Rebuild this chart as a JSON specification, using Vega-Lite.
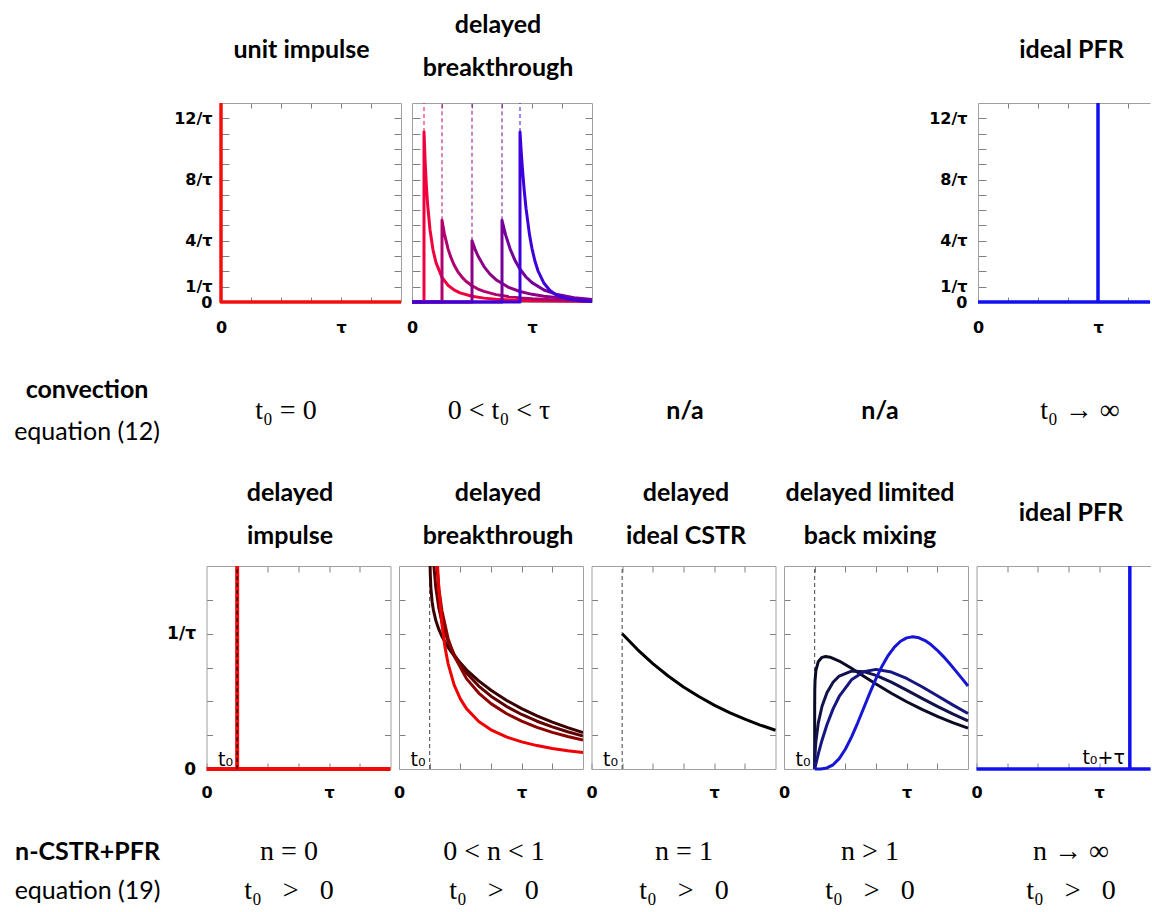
{
"$schema": "https://vega.github.io/schema/vega-lite/v6.json",
"padding": 0,
"spacing": 0,
"resolve": {"scale": {"color": "independent"}},
"config": {
  "view": {"stroke": null},
  "line": {"strokeJoin": "round"},
  "axis": {"grid": false, "labelFont": "DejaVu Sans", "labelFontWeight": "bold", "labelFontSize": 16, "labelColor": "#000000", "domainColor": "#a0a0a0", "domainWidth": 1, "tickColor": "#808080", "tickWidth": 1, "labelOverlap": false, "labelFlush": false},
  "text": {"font": "Lato", "fontSize": 25, "baseline": "middle", "align": "center", "color": "#000000"}
},
"vconcat": [
  {"hconcat": [
    {"width": 203, "height": 100.25, "data": {"values": []}, "mark": "text"},
    {"width": 197, "height": 100.25, "data": {"values": [{"txt": "unit impulse", "line": 1.58}]}, "mark": {"type": "text", "fontWeight": "bold"}, "encoding": {"y": {"field": "line", "type": "quantitative", "scale": {"domain": [0.4186, 2.75], "reverse": true, "nice": false, "zero": false}, "axis": null}, "text": {"field": "txt"}}},
    {"width": 196, "height": 100.25, "data": {"values": [{"txt": "delayed", "line": 1}, {"txt": "breakthrough", "line": 2}]}, "mark": {"type": "text", "fontWeight": "bold"}, "encoding": {"y": {"field": "line", "type": "quantitative", "scale": {"domain": [0.4186, 2.75], "reverse": true, "nice": false, "zero": false}, "axis": null}, "text": {"field": "txt"}}},
    {"width": 397, "height": 100.25, "data": {"values": []}, "mark": "text"},
    {"width": 157, "height": 100.25, "data": {"values": [{"txt": "ideal PFR", "line": 1.58}]}, "mark": {"type": "text", "fontWeight": "bold"}, "encoding": {"y": {"field": "line", "type": "quantitative", "scale": {"domain": [0.4186, 2.75], "reverse": true, "nice": false, "zero": false}, "axis": null}, "text": {"field": "txt"}}}
  ], "spacing": 0, "bounds": "flush"},

  {"hconcat": [
    {"width": 210, "height": 199, "data": {"values": []}, "mark": "text"},
    {"width": 180, "height": 199, "resolve": {"axis": {"x": "independent", "y": "independent"}}, "layer": [
      {"data": {"values": [{"i": 0, "t": 0, "e": 13}, {"i": 1, "t": 0, "e": 0}, {"i": 2, "t": 1.5, "e": 0}]},
       "mark": {"type": "line", "color": "#f2100f", "strokeWidth": 3.5},
       "encoding": {
         "x": {"field": "t", "type": "quantitative", "scale": {"domain": [0, 1.5], "nice": false, "zero": false}, "axis": {"orient": "bottom", "values": [0, 0.25, 0.5, 0.75, 1, 1.25], "labelExpr": "datum.value==0?'0':(datum.value==1?'τ':'')", "tickSize": -5, "labelPadding": 22, "title": null}},
         "y": {"field": "e", "type": "quantitative", "scale": {"domain": [0, 13], "nice": false, "zero": false}, "axis": {"orient": "left", "values": [0,1,2,3,4,5,6,7,8,9,10,11,12], "labelExpr": "datum.value==0?'0':datum.value==1?'1/τ':datum.value==4?'4/τ':datum.value==8?'8/τ':datum.value==12?'12/τ':''", "tickSize": -8, "labelPadding": 17, "labelFontSize": 16, "title": null}},
         "order": {"field": "i", "type": "quantitative"}}},
      {"data": {"values": []}, "mark": {"type": "line"},
       "encoding": {
         "x": {"field": "t", "type": "quantitative", "scale": {"domain": [0, 1.5], "nice": false, "zero": false}, "axis": {"orient": "top", "values": [0.25, 0.5, 0.75, 1, 1.25], "labels": false, "tickSize": -5, "title": null}},
         "y": {"field": "e", "type": "quantitative", "scale": {"domain": [0, 13], "nice": false, "zero": false}, "axis": {"orient": "right", "values": [1,2,3,4,5,6,7,8,9,10,11,12], "labels": false, "tickSize": -7, "title": null}}}}
    ]},
    {"width": 180, "height": 199, "resolve": {"axis": {"x": "independent", "y": "independent"}}, "layer": [
      {"data": {"values": [
        {"k":"a1","i":0,"t":0,"e":0},{"k":"a1","i":1,"t":0.1,"e":0},{"k":"a1","i":2,"t":0.1,"e":11.11},{"k":"a1","i":3,"t":0.11,"e":9.085},{"k":"a1","i":4,"t":0.12,"e":7.56},{"k":"a1","i":5,"t":0.13,"e":6.385},{"k":"a1","i":6,"t":0.15,"e":4.72},{"k":"a1","i":7,"t":0.175,"e":3.41},{"k":"a1","i":8,"t":0.2,"e":2.572},{"k":"a1","i":9,"t":0.25,"e":1.606},{"k":"a1","i":10,"t":0.3,"e":1.093},{"k":"a1","i":11,"t":0.35,"e":0.789},{"k":"a1","i":12,"t":0.4,"e":0.595},{"k":"a1","i":13,"t":0.5,"e":0.372},{"k":"a1","i":14,"t":0.6,"e":0.253},{"k":"a1","i":15,"t":0.7,"e":0.183},{"k":"a1","i":16,"t":0.85,"e":0.121},{"k":"a1","i":17,"t":1.0,"e":0.086},{"k":"a1","i":18,"t":1.2,"e":0.059},{"k":"a1","i":19,"t":1.5,"e":0.037},
        {"k":"a2","i":0,"t":0,"e":0},{"k":"a2","i":1,"t":0.25,"e":0},{"k":"a2","i":2,"t":0.25,"e":5.333},{"k":"a2","i":3,"t":0.27,"e":4.456},{"k":"a2","i":4,"t":0.3,"e":3.485},{"k":"a2","i":5,"t":0.32,"e":2.998},{"k":"a2","i":6,"t":0.35,"e":2.432},{"k":"a2","i":7,"t":0.38,"e":2.007},{"k":"a2","i":8,"t":0.42,"e":1.59},{"k":"a2","i":9,"t":0.45,"e":1.353},{"k":"a2","i":10,"t":0.5,"e":1.058},{"k":"a2","i":11,"t":0.55,"e":0.847},{"k":"a2","i":12,"t":0.6,"e":0.692},{"k":"a2","i":13,"t":0.7,"e":0.483},{"k":"a2","i":14,"t":0.8,"e":0.353},{"k":"a2","i":15,"t":0.9,"e":0.269},{"k":"a2","i":16,"t":1.0,"e":0.21},{"k":"a2","i":17,"t":1.2,"e":0.137},{"k":"a2","i":18,"t":1.5,"e":0.082},
        {"k":"a3","i":0,"t":0,"e":0},{"k":"a3","i":1,"t":0.5,"e":0},{"k":"a3","i":2,"t":0.5,"e":4},{"k":"a3","i":3,"t":0.525,"e":3.455},{"k":"a3","i":4,"t":0.55,"e":3.005},{"k":"a3","i":5,"t":0.6,"e":2.315},{"k":"a3","i":6,"t":0.65,"e":1.821},{"k":"a3","i":7,"t":0.7,"e":1.458},{"k":"a3","i":8,"t":0.8,"e":0.977},{"k":"a3","i":9,"t":0.9,"e":0.686},{"k":"a3","i":10,"t":1.0,"e":0.5},{"k":"a3","i":11,"t":1.1,"e":0.376},{"k":"a3","i":12,"t":1.2,"e":0.289},{"k":"a3","i":13,"t":1.35,"e":0.203},{"k":"a3","i":14,"t":1.5,"e":0.148},
        {"k":"a4","i":0,"t":0,"e":0},{"k":"a4","i":1,"t":0.75,"e":0},{"k":"a4","i":2,"t":0.75,"e":5.333},{"k":"a4","i":3,"t":0.78,"e":4.383},{"k":"a4","i":4,"t":0.82,"e":3.416},{"k":"a4","i":5,"t":0.86,"e":2.69},{"k":"a4","i":6,"t":0.9,"e":2.143},{"k":"a4","i":7,"t":0.95,"e":1.635},{"k":"a4","i":8,"t":1.0,"e":1.266},{"k":"a4","i":9,"t":1.1,"e":0.786},{"k":"a4","i":10,"t":1.2,"e":0.509},{"k":"a4","i":11,"t":1.35,"e":0.282},{"k":"a4","i":12,"t":1.5,"e":0.167},
        {"k":"a5","i":0,"t":0,"e":0},{"k":"a5","i":1,"t":0.9,"e":0},{"k":"a5","i":2,"t":0.9,"e":11.11},{"k":"a5","i":3,"t":0.91,"e":9.839},{"k":"a5","i":4,"t":0.92,"e":8.724},{"k":"a5","i":5,"t":0.935,"e":7.303},{"k":"a5","i":6,"t":0.95,"e":6.13},{"k":"a5","i":7,"t":0.98,"e":4.354},{"k":"a5","i":8,"t":1.0,"e":3.487},{"k":"a5","i":9,"t":1.025,"e":2.658},{"k":"a5","i":10,"t":1.05,"e":2.039},{"k":"a5","i":11,"t":1.1,"e":1.222},{"k":"a5","i":12,"t":1.15,"e":0.749},{"k":"a5","i":13,"t":1.2,"e":0.469},{"k":"a5","i":14,"t":1.3,"e":0.195},{"k":"a5","i":15,"t":1.4,"e":0.086},{"k":"a5","i":16,"t":1.5,"e":0.04}
       ]},
       "mark": {"type": "line", "strokeWidth": 3},
       "encoding": {
         "x": {"field": "t", "type": "quantitative", "scale": {"domain": [0, 1.5], "nice": false, "zero": false}, "axis": {"orient": "bottom", "values": [0, 0.25, 0.5, 0.75, 1, 1.25], "labelExpr": "datum.value==0?'0':(datum.value==1?'τ':'')", "tickSize": -5, "labelPadding": 22, "title": null}},
         "y": {"field": "e", "type": "quantitative", "scale": {"domain": [0, 13], "nice": false, "zero": false}, "axis": {"orient": "left", "values": [1,2,3,4,5,6,7,8,9,10,11,12], "labels": false, "tickSize": -8, "title": null}},
         "color": {"field": "k", "type": "nominal", "scale": {"domain": ["a1","a2","a3","a4","a5"], "range": ["#f0003c","#b0006e","#8c0086","#74009c","#3c00dc"]}, "legend": null},
         "order": {"field": "i", "type": "quantitative"}}},
      {"data": {"values": [
        {"k":"a1","t":0.1,"e":11.11},{"k":"a1","t":0.1,"e":13},
        {"k":"a2","t":0.25,"e":5.333},{"k":"a2","t":0.25,"e":13},
        {"k":"a3","t":0.5,"e":4},{"k":"a3","t":0.5,"e":13},
        {"k":"a4","t":0.75,"e":5.333},{"k":"a4","t":0.75,"e":13},
        {"k":"a5","t":0.9,"e":11.11},{"k":"a5","t":0.9,"e":13}
       ]},
       "mark": {"type": "line", "strokeWidth": 1.2, "strokeDash": [4, 3], "opacity": 0.8},
       "encoding": {
         "x": {"field": "t", "type": "quantitative", "scale": {"domain": [0, 1.5], "nice": false, "zero": false}, "axis": {"orient": "top", "values": [0.25, 0.5, 0.75, 1, 1.25], "labels": false, "tickSize": -5, "title": null}},
         "y": {"field": "e", "type": "quantitative", "scale": {"domain": [0, 13], "nice": false, "zero": false}, "axis": {"orient": "right", "values": [1,2,3,4,5,6,7,8,9,10,11,12], "labels": false, "tickSize": -7, "title": null}},
         "color": {"field": "k", "type": "nominal", "scale": {"domain": ["a1","a2","a3","a4","a5"], "range": ["#f0003c","#b0006e","#8c0086","#74009c","#3c00dc"]}, "legend": null}}}
    ]},
    {"width": 364, "height": 199, "data": {"values": []}, "mark": "text"},
    {"width": 172, "height": 199, "resolve": {"axis": {"x": "independent", "y": "independent"}}, "layer": [
      {"data": {"values": [{"k":"b","i":0,"t":0,"e":0},{"k":"b","i":1,"t":1.4333,"e":0},{"k":"v","i":2,"t":1,"e":0},{"k":"v","i":3,"t":1,"e":13}]},
       "mark": {"type": "line", "color": "#1010f0", "strokeWidth": 3.5},
       "encoding": {
         "x": {"field": "t", "type": "quantitative", "scale": {"domain": [0, 1.4333], "nice": false, "zero": false}, "axis": {"orient": "bottom", "values": [0, 0.25, 0.5, 0.75, 1, 1.25], "labelExpr": "datum.value==0?'0':(datum.value==1?'τ':'')", "tickSize": -5, "labelPadding": 22, "title": null}},
         "y": {"field": "e", "type": "quantitative", "scale": {"domain": [0, 13], "nice": false, "zero": false}, "axis": {"orient": "left", "values": [0,1,2,3,4,5,6,7,8,9,10,11,12], "labelExpr": "datum.value==0?'0':datum.value==1?'1/τ':datum.value==4?'4/τ':datum.value==8?'8/τ':datum.value==12?'12/τ':''", "tickSize": -8, "labelPadding": 19, "labelFontSize": 16, "title": null}},
         "detail": {"field": "k"},
         "order": {"field": "i", "type": "quantitative"}}},
      {"data": {"values": []}, "mark": {"type": "line"},
       "encoding": {
         "x": {"field": "t", "type": "quantitative", "scale": {"domain": [0, 1.4333], "nice": false, "zero": false}, "axis": {"orient": "top", "values": [0.25, 0.5, 0.75, 1, 1.25], "labels": false, "tickSize": -5, "title": null}},
         "y": {"field": "e", "type": "quantitative", "scale": {"domain": [0, 13], "nice": false, "zero": false}, "axis": null}}}
    ]}
  ], "spacing": 11, "bounds": "flush", "resolve": {"scale": {"color": "independent"}}},

  {"width": 1, "height": 33.25, "data": {"values": []}, "mark": "text"},

  {"hconcat": [
    {"width": 174, "height": 84, "layer": [
      {"data": {"values": [{"txt": "convection", "line": 1}]}, "mark": {"type": "text", "fontWeight": "bold"}, "encoding": {"y": {"field": "line", "type": "quantitative", "scale": {"domain": [0.5, 2.5], "reverse": true, "nice": false, "zero": false}, "axis": null}, "text": {"field": "txt"}}},
      {"data": {"values": [{"txt": "equation (12)", "line": 2}]}, "mark": {"type": "text"}, "encoding": {"y": {"field": "line", "type": "quantitative", "scale": {"domain": [0.5, 2.5], "reverse": true, "nice": false, "zero": false}, "axis": null}, "text": {"field": "txt"}}}
    ]},
    {"width": 20, "height": 84, "data": {"values": []}, "mark": "text"},
    {"width": 184, "height": 84, "data": {"values": [{"txt": "t₀ = 0", "line": 1.5}]}, "mark": {"type": "text", "font": "Liberation Serif", "fontSize": 28}, "encoding": {"y": {"field": "line", "type": "quantitative", "scale": {"domain": [0.5, 2.5], "reverse": true, "nice": false, "zero": false}, "axis": null}, "text": {"field": "txt"}}},
    {"width": 242, "height": 84, "data": {"values": [{"txt": "0 < t₀ < τ", "line": 1.5}]}, "mark": {"type": "text", "font": "Liberation Serif", "fontSize": 28}, "encoding": {"y": {"field": "line", "type": "quantitative", "scale": {"domain": [0.5, 2.5], "reverse": true, "nice": false, "zero": false}, "axis": null}, "text": {"field": "txt"}}},
    {"width": 130, "height": 84, "data": {"values": [{"txt": "n/a", "line": 1.5}]}, "mark": {"type": "text", "fontWeight": "bold"}, "encoding": {"y": {"field": "line", "type": "quantitative", "scale": {"domain": [0.5, 2.5], "reverse": true, "nice": false, "zero": false}, "axis": null}, "text": {"field": "txt"}}},
    {"width": 260, "height": 84, "data": {"values": [{"txt": "n/a", "line": 1.5}]}, "mark": {"type": "text", "fontWeight": "bold"}, "encoding": {"y": {"field": "line", "type": "quantitative", "scale": {"domain": [0.5, 2.5], "reverse": true, "nice": false, "zero": false}, "axis": null}, "text": {"field": "txt"}}},
    {"width": 140, "height": 84, "data": {"values": [{"txt": "t₀ → ∞", "line": 1.5}]}, "mark": {"type": "text", "font": "Liberation Serif", "fontSize": 28}, "encoding": {"y": {"field": "line", "type": "quantitative", "scale": {"domain": [0.5, 2.5], "reverse": true, "nice": false, "zero": false}, "axis": null}, "text": {"field": "txt"}}}
  ], "spacing": 0, "bounds": "flush"},

  {"hconcat": [
    {"width": 208, "height": 111, "data": {"values": []}, "mark": "text"},
    {"width": 164, "height": 111, "data": {"values": [{"txt": "delayed", "line": 1}, {"txt": "impulse", "line": 2}]}, "mark": {"type": "text", "fontWeight": "bold"}, "encoding": {"y": {"field": "line", "type": "quantitative", "scale": {"domain": [0.0698, 2.6512], "reverse": true, "nice": false, "zero": false}, "axis": null}, "text": {"field": "txt"}}},
    {"width": 252, "height": 111, "data": {"values": [{"txt": "delayed", "line": 1}, {"txt": "breakthrough", "line": 2}]}, "mark": {"type": "text", "fontWeight": "bold"}, "encoding": {"y": {"field": "line", "type": "quantitative", "scale": {"domain": [0.0698, 2.6512], "reverse": true, "nice": false, "zero": false}, "axis": null}, "text": {"field": "txt"}}},
    {"width": 124, "height": 111, "data": {"values": [{"txt": "delayed", "line": 1}, {"txt": "ideal CSTR", "line": 2}]}, "mark": {"type": "text", "fontWeight": "bold"}, "encoding": {"y": {"field": "line", "type": "quantitative", "scale": {"domain": [0.0698, 2.6512], "reverse": true, "nice": false, "zero": false}, "axis": null}, "text": {"field": "txt"}}},
    {"width": 244, "height": 111, "data": {"values": [{"txt": "delayed limited", "line": 1}, {"txt": "back mixing", "line": 2}]}, "mark": {"type": "text", "fontWeight": "bold"}, "encoding": {"y": {"field": "line", "type": "quantitative", "scale": {"domain": [0.0698, 2.6512], "reverse": true, "nice": false, "zero": false}, "axis": null}, "text": {"field": "txt"}}},
    {"width": 158, "height": 111, "data": {"values": [{"txt": "ideal PFR", "line": 1.465}]}, "mark": {"type": "text", "fontWeight": "bold"}, "encoding": {"y": {"field": "line", "type": "quantitative", "scale": {"domain": [0.0698, 2.6512], "reverse": true, "nice": false, "zero": false}, "axis": null}, "text": {"field": "txt"}}}
  ], "spacing": 0, "bounds": "flush"},

  {"hconcat": [
    {"width": 197.5, "height": 203, "data": {"values": []}, "mark": "text"},
    {"width": 184, "height": 203, "resolve": {"axis": {"x": "independent", "y": "independent"}}, "layer": [
      {"data": {"values": [{"k":"b","t":0,"e":0},{"k":"b","t":1.5,"e":0},{"k":"v","t":0.25,"e":0},{"k":"v","t":0.25,"e":1.5}]},
       "mark": {"type": "line", "color": "#f20a0a", "strokeWidth": 4},
       "encoding": {
         "x": {"field": "t", "type": "quantitative", "scale": {"domain": [0, 1.5], "nice": false, "zero": false}, "axis": {"orient": "bottom", "values": [0, 0.25, 0.5, 0.75, 1, 1.25], "labelExpr": "datum.value==0?'0':(datum.value==1?'τ':'')", "tickSize": -6, "labelPadding": 21, "title": null}},
         "y": {"field": "e", "type": "quantitative", "scale": {"domain": [0, 1.5], "nice": false, "zero": false}, "axis": {"orient": "left", "values": [0, 0.25, 0.5, 0.75, 1, 1.25], "labelExpr": "datum.value==0?'0':(datum.value==1?'1/τ':'')", "tickSize": -6, "labelPadding": 17, "labelFontSize": 17, "title": null}},
         "detail": {"field": "k"}}},
      {"data": {"values": [{"t":0.25,"e":0},{"t":0.25,"e":1.5}]},
       "mark": {"type": "line", "color": "#000000", "strokeWidth": 1, "strokeDash": [4, 3]},
       "encoding": {
         "x": {"field": "t", "type": "quantitative", "scale": {"domain": [0, 1.5], "nice": false, "zero": false}, "axis": {"orient": "top", "values": [0.25, 0.5, 0.75, 1, 1.25], "labels": false, "tickSize": -6, "title": null}},
         "y": {"field": "e", "type": "quantitative", "scale": {"domain": [0, 1.5], "nice": false, "zero": false}, "axis": {"orient": "right", "values": [0.25, 0.5, 0.75, 1, 1.25], "labels": false, "tickSize": -6, "title": null}}}},
      {"data": {"values": [{"t":0.25,"e":0.065,"txt":"t₀"}]},
       "mark": {"type": "text", "font": "DejaVu Sans", "fontSize": 19, "align": "right", "dx": -4},
       "encoding": {
         "x": {"field": "t", "type": "quantitative", "scale": {"domain": [0, 1.5], "nice": false, "zero": false}, "axis": null},
         "y": {"field": "e", "type": "quantitative", "scale": {"domain": [0, 1.5], "nice": false, "zero": false}, "axis": null},
         "text": {"field": "txt"}}}
    ]},
    {"width": 184, "height": 203, "resolve": {"axis": {"x": "independent", "y": "independent"}}, "layer": [
      {"data": {"values": [{"t":0.25,"e":0},{"t":0.25,"e":1.5}]},
       "mark": {"type": "line", "color": "#444444", "strokeWidth": 1, "strokeDash": [4, 3]},
       "encoding": {
         "x": {"field": "t", "type": "quantitative", "scale": {"domain": [0, 1.5], "nice": false, "zero": false}, "axis": {"orient": "bottom", "values": [0, 0.25, 0.5, 0.75, 1, 1.25], "labelExpr": "datum.value==0?'0':(datum.value==1?'τ':'')", "tickSize": -6, "labelPadding": 21, "title": null}},
         "y": {"field": "e", "type": "quantitative", "scale": {"domain": [0, 1.5], "nice": false, "zero": false}, "axis": {"orient": "left", "values": [0.25, 0.5, 0.75, 1, 1.25], "labels": false, "tickSize": -6, "title": null}}}},
      {"data": {"values": [
        {"k":"b1","t":0.2505,"e":1.819},{"k":"b1","t":0.251,"e":1.697},{"k":"b1","t":0.252,"e":1.582},{"k":"b1","t":0.255,"e":1.439},{"k":"b1","t":0.26,"e":1.337},{"k":"b1","t":0.27,"e":1.236},{"k":"b1","t":0.28,"e":1.176},{"k":"b1","t":0.3,"e":1.098},{"k":"b1","t":0.325,"e":1.031},{"k":"b1","t":0.35,"e":0.979},{"k":"b1","t":0.4,"e":0.899},{"k":"b1","t":0.45,"e":0.835},{"k":"b1","t":0.55,"e":0.733},{"k":"b1","t":0.65,"e":0.651},{"k":"b1","t":0.75,"e":0.582},{"k":"b1","t":0.875,"e":0.508},{"k":"b1","t":1.0,"e":0.446},{"k":"b1","t":1.125,"e":0.392},{"k":"b1","t":1.25,"e":0.346},{"k":"b1","t":1.375,"e":0.306},{"k":"b1","t":1.5,"e":0.27},
        {"k":"b2","t":0.251,"e":3.695},{"k":"b2","t":0.252,"e":3.105},{"k":"b2","t":0.255,"e":2.464},{"k":"b2","t":0.26,"e":2.064},{"k":"b2","t":0.27,"e":1.723},{"k":"b2","t":0.28,"e":1.545},{"k":"b2","t":0.3,"e":1.34},{"k":"b2","t":0.325,"e":1.188},{"k":"b2","t":0.35,"e":1.085},{"k":"b2","t":0.4,"e":0.944},{"k":"b2","t":0.45,"e":0.846},{"k":"b2","t":0.55,"e":0.71},{"k":"b2","t":0.65,"e":0.613},{"k":"b2","t":0.75,"e":0.538},{"k":"b2","t":0.875,"e":0.463},{"k":"b2","t":1.0,"e":0.403},{"k":"b2","t":1.125,"e":0.353},{"k":"b2","t":1.25,"e":0.311},{"k":"b2","t":1.375,"e":0.275},{"k":"b2","t":1.5,"e":0.244},
        {"k":"b3","t":0.255,"e":4.1},{"k":"b3","t":0.26,"e":3.1},{"k":"b3","t":0.27,"e":2.335},{"k":"b3","t":0.28,"e":1.974},{"k":"b3","t":0.3,"e":1.59},{"k":"b3","t":0.325,"e":1.332},{"k":"b3","t":0.35,"e":1.169},{"k":"b3","t":0.4,"e":0.965},{"k":"b3","t":0.45,"e":0.835},{"k":"b3","t":0.55,"e":0.668},{"k":"b3","t":0.65,"e":0.561},{"k":"b3","t":0.75,"e":0.483},{"k":"b3","t":0.875,"e":0.41},{"k":"b3","t":1.0,"e":0.354},{"k":"b3","t":1.125,"e":0.308},{"k":"b3","t":1.25,"e":0.271},{"k":"b3","t":1.375,"e":0.24},{"k":"b3","t":1.5,"e":0.2135},
        {"k":"b4","t":0.28,"e":2.685},{"k":"b4","t":0.3,"e":1.822},{"k":"b4","t":0.315,"e":1.491},{"k":"b4","t":0.325,"e":1.335},{"k":"b4","t":0.35,"e":1.07},{"k":"b4","t":0.375,"e":0.899},{"k":"b4","t":0.4,"e":0.779},{"k":"b4","t":0.45,"e":0.62},{"k":"b4","t":0.5,"e":0.518},{"k":"b4","t":0.55,"e":0.446},{"k":"b4","t":0.65,"e":0.351},{"k":"b4","t":0.75,"e":0.2895},{"k":"b4","t":0.875,"e":0.237},{"k":"b4","t":1.0,"e":0.2006},{"k":"b4","t":1.125,"e":0.173},{"k":"b4","t":1.25,"e":0.152},{"k":"b4","t":1.375,"e":0.135},{"k":"b4","t":1.5,"e":0.121}
       ]},
       "mark": {"type": "line", "strokeWidth": 3, "clip": true},
       "encoding": {
         "x": {"field": "t", "type": "quantitative", "scale": {"domain": [0, 1.5], "nice": false, "zero": false}, "axis": {"orient": "top", "values": [0.25, 0.5, 0.75, 1, 1.25], "labels": false, "tickSize": -6, "title": null}},
         "y": {"field": "e", "type": "quantitative", "scale": {"domain": [0, 1.5], "nice": false, "zero": false}, "axis": {"orient": "right", "values": [0.25, 0.5, 0.75, 1, 1.25], "labels": false, "tickSize": -6, "title": null}},
         "color": {"field": "k", "type": "nominal", "scale": {"domain": ["b1","b2","b3","b4"], "range": ["#380000","#600000","#8c0000","#f00000"]}, "legend": null}}},
      {"data": {"values": [{"t":0.25,"e":0.065,"txt":"t₀"}]},
       "mark": {"type": "text", "font": "DejaVu Sans", "fontSize": 19, "align": "right", "dx": -4},
       "encoding": {
         "x": {"field": "t", "type": "quantitative", "scale": {"domain": [0, 1.5], "nice": false, "zero": false}, "axis": null},
         "y": {"field": "e", "type": "quantitative", "scale": {"domain": [0, 1.5], "nice": false, "zero": false}, "axis": null},
         "text": {"field": "txt"}}}
    ]},
    {"width": 184, "height": 203, "resolve": {"axis": {"x": "independent", "y": "independent"}}, "layer": [
      {"data": {"values": [{"t":0.25,"e":0},{"t":0.25,"e":1.5}]},
       "mark": {"type": "line", "color": "#444444", "strokeWidth": 1, "strokeDash": [4, 3]},
       "encoding": {
         "x": {"field": "t", "type": "quantitative", "scale": {"domain": [0, 1.5], "nice": false, "zero": false}, "axis": {"orient": "bottom", "values": [0, 0.25, 0.5, 0.75, 1, 1.25], "labelExpr": "datum.value==0?'0':(datum.value==1?'τ':'')", "tickSize": -6, "labelPadding": 21, "title": null}},
         "y": {"field": "e", "type": "quantitative", "scale": {"domain": [0, 1.5], "nice": false, "zero": false}, "axis": {"orient": "left", "values": [0.25, 0.5, 0.75, 1, 1.25], "labels": false, "tickSize": -6, "title": null}}}},
      {"data": {"values": [{"t":0.25,"e":1},{"t":0.375,"e":0.8825},{"t":0.5,"e":0.7788},{"t":0.625,"e":0.6873},{"t":0.75,"e":0.6065},{"t":0.875,"e":0.5353},{"t":1.0,"e":0.4724},{"t":1.125,"e":0.4169},{"t":1.25,"e":0.3679},{"t":1.375,"e":0.3247},{"t":1.5,"e":0.2865}]},
       "mark": {"type": "line", "color": "#000000", "strokeWidth": 3},
       "encoding": {
         "x": {"field": "t", "type": "quantitative", "scale": {"domain": [0, 1.5], "nice": false, "zero": false}, "axis": {"orient": "top", "values": [0.25, 0.5, 0.75, 1, 1.25], "labels": false, "tickSize": -6, "title": null}},
         "y": {"field": "e", "type": "quantitative", "scale": {"domain": [0, 1.5], "nice": false, "zero": false}, "axis": {"orient": "right", "values": [0.25, 0.5, 0.75, 1, 1.25], "labels": false, "tickSize": -6, "title": null}}}},
      {"data": {"values": [{"t":0.25,"e":0.065,"txt":"t₀"}]},
       "mark": {"type": "text", "font": "DejaVu Sans", "fontSize": 19, "align": "right", "dx": -4},
       "encoding": {
         "x": {"field": "t", "type": "quantitative", "scale": {"domain": [0, 1.5], "nice": false, "zero": false}, "axis": null},
         "y": {"field": "e", "type": "quantitative", "scale": {"domain": [0, 1.5], "nice": false, "zero": false}, "axis": null},
         "text": {"field": "txt"}}}
    ]},
    {"width": 184, "height": 203, "resolve": {"axis": {"x": "independent", "y": "independent"}}, "layer": [
      {"data": {"values": [{"t":0.25,"e":0},{"t":0.25,"e":1.5}]},
       "mark": {"type": "line", "color": "#444444", "strokeWidth": 1, "strokeDash": [4, 3]},
       "encoding": {
         "x": {"field": "t", "type": "quantitative", "scale": {"domain": [0, 1.5], "nice": false, "zero": false}, "axis": {"orient": "bottom", "values": [0, 0.25, 0.5, 0.75, 1, 1.25], "labelExpr": "datum.value==0?'0':(datum.value==1?'τ':'')", "tickSize": -6, "labelPadding": 21, "title": null}},
         "y": {"field": "e", "type": "quantitative", "scale": {"domain": [0, 1.5], "nice": false, "zero": false}, "axis": {"orient": "left", "values": [0.25, 0.5, 0.75, 1, 1.25], "labels": false, "tickSize": -6, "title": null}}}},
      {"data": {"values": [
        {"k":"d1","t":0.25,"e":0},{"k":"d1","t":0.25001,"e":0.369},{"k":"d1","t":0.2501,"e":0.465},{"k":"d1","t":0.251,"e":0.584},{"k":"d1","t":0.253,"e":0.651},{"k":"d1","t":0.26,"e":0.7285},{"k":"d1","t":0.28,"e":0.795},{"k":"d1","t":0.31,"e":0.825},{"k":"d1","t":0.34,"e":0.831},{"k":"d1","t":0.375,"e":0.826},{"k":"d1","t":0.45,"e":0.7975},{"k":"d1","t":0.55,"e":0.744},{"k":"d1","t":0.65,"e":0.686},{"k":"d1","t":0.75,"e":0.628},{"k":"d1","t":0.875,"e":0.56},{"k":"d1","t":1.0,"e":0.497},{"k":"d1","t":1.125,"e":0.44},{"k":"d1","t":1.25,"e":0.389},{"k":"d1","t":1.375,"e":0.343},{"k":"d1","t":1.5,"e":0.302},
        {"k":"d2","t":0.25,"e":0},{"k":"d2","t":0.252,"e":0.0924},{"k":"d2","t":0.255,"e":0.1455},{"k":"d2","t":0.26,"e":0.204},{"k":"d2","t":0.28,"e":0.343},{"k":"d2","t":0.31,"e":0.464},{"k":"d2","t":0.35,"e":0.564},{"k":"d2","t":0.4,"e":0.641},{"k":"d2","t":0.45,"e":0.687},{"k":"d2","t":0.55,"e":0.724},{"k":"d2","t":0.65,"e":0.7195},{"k":"d2","t":0.75,"e":0.692},{"k":"d2","t":0.875,"e":0.642},{"k":"d2","t":1.0,"e":0.583},{"k":"d2","t":1.125,"e":0.522},{"k":"d2","t":1.25,"e":0.4625},{"k":"d2","t":1.375,"e":0.407},{"k":"d2","t":1.5,"e":0.355},
        {"k":"d3","t":0.25,"e":0},{"k":"d3","t":0.28,"e":0.113},{"k":"d3","t":0.31,"e":0.213},{"k":"d3","t":0.35,"e":0.3275},{"k":"d3","t":0.4,"e":0.4445},{"k":"d3","t":0.45,"e":0.536},{"k":"d3","t":0.55,"e":0.659},{"k":"d3","t":0.65,"e":0.719},{"k":"d3","t":0.75,"e":0.736},{"k":"d3","t":0.875,"e":0.716},{"k":"d3","t":1.0,"e":0.669},{"k":"d3","t":1.125,"e":0.608},{"k":"d3","t":1.25,"e":0.541},{"k":"d3","t":1.375,"e":0.474},{"k":"d3","t":1.5,"e":0.41},
        {"k":"d4","t":0.25,"e":0},{"k":"d4","t":0.3,"e":0.0006},{"k":"d4","t":0.35,"e":0.0079},{"k":"d4","t":0.4,"e":0.0311},{"k":"d4","t":0.45,"e":0.0766},{"k":"d4","t":0.5,"e":0.1457},{"k":"d4","t":0.55,"e":0.2353},{"k":"d4","t":0.6,"e":0.3395},{"k":"d4","t":0.65,"e":0.4511},{"k":"d4","t":0.7,"e":0.5628},{"k":"d4","t":0.75,"e":0.668},{"k":"d4","t":0.8,"e":0.7617},{"k":"d4","t":0.85,"e":0.8402},{"k":"d4","t":0.9,"e":0.9012},{"k":"d4","t":0.95,"e":0.944},{"k":"d4","t":1.0,"e":0.9689},{"k":"d4","t":1.05,"e":0.9769},{"k":"d4","t":1.1,"e":0.9695},{"k":"d4","t":1.15,"e":0.949},{"k":"d4","t":1.2,"e":0.9176},{"k":"d4","t":1.25,"e":0.8773},{"k":"d4","t":1.3,"e":0.8305},{"k":"d4","t":1.35,"e":0.7791},{"k":"d4","t":1.4,"e":0.7248},{"k":"d4","t":1.45,"e":0.6693},{"k":"d4","t":1.5,"e":0.6137}
       ]},
       "mark": {"type": "line", "strokeWidth": 3},
       "encoding": {
         "x": {"field": "t", "type": "quantitative", "scale": {"domain": [0, 1.5], "nice": false, "zero": false}, "axis": {"orient": "top", "values": [0.25, 0.5, 0.75, 1, 1.25], "labels": false, "tickSize": -6, "title": null}},
         "y": {"field": "e", "type": "quantitative", "scale": {"domain": [0, 1.5], "nice": false, "zero": false}, "axis": {"orient": "right", "values": [0.25, 0.5, 0.75, 1, 1.25], "labels": false, "tickSize": -6, "title": null}},
         "color": {"field": "k", "type": "nominal", "scale": {"domain": ["d1","d2","d3","d4"], "range": ["#0b0b26","#12124c","#161680","#1616d4"]}, "legend": null}}},
      {"data": {"values": [{"t":0.25,"e":0.065,"txt":"t₀"}]},
       "mark": {"type": "text", "font": "DejaVu Sans", "fontSize": 19, "align": "right", "dx": -4},
       "encoding": {
         "x": {"field": "t", "type": "quantitative", "scale": {"domain": [0, 1.5], "nice": false, "zero": false}, "axis": null},
         "y": {"field": "e", "type": "quantitative", "scale": {"domain": [0, 1.5], "nice": false, "zero": false}, "axis": null},
         "text": {"field": "txt"}}}
    ]},
    {"width": 174, "height": 203, "resolve": {"axis": {"x": "independent", "y": "independent"}}, "layer": [
      {"data": {"values": [{"k":"b","t":0,"e":0},{"k":"b","t":1.4185,"e":0},{"k":"v","t":1.25,"e":0},{"k":"v","t":1.25,"e":1.5}]},
       "mark": {"type": "line", "color": "#1010f0", "strokeWidth": 3.5},
       "encoding": {
         "x": {"field": "t", "type": "quantitative", "scale": {"domain": [0, 1.4185], "nice": false, "zero": false}, "axis": {"orient": "bottom", "values": [0, 0.25, 0.5, 0.75, 1, 1.25], "labelExpr": "datum.value==0?'0':(datum.value==1?'τ':'')", "tickSize": -6, "labelPadding": 21, "title": null}},
         "y": {"field": "e", "type": "quantitative", "scale": {"domain": [0, 1.5], "nice": false, "zero": false}, "axis": {"orient": "left", "values": [0.25, 0.5, 0.75, 1, 1.25], "labels": false, "tickSize": -6, "title": null}},
         "detail": {"field": "k"}}},
      {"data": {"values": []}, "mark": {"type": "line"},
       "encoding": {
         "x": {"field": "t", "type": "quantitative", "scale": {"domain": [0, 1.4185], "nice": false, "zero": false}, "axis": {"orient": "top", "values": [0.25, 0.5, 0.75, 1, 1.25], "labels": false, "tickSize": -6, "title": null}},
         "y": {"field": "e", "type": "quantitative", "scale": {"domain": [0, 1.5], "nice": false, "zero": false}, "axis": null}}},
      {"data": {"values": [{"t":1.25,"e":0.083,"txt":"t₀+τ"}]},
       "mark": {"type": "text", "font": "DejaVu Sans", "fontSize": 19, "align": "right", "dx": -5},
       "encoding": {
         "x": {"field": "t", "type": "quantitative", "scale": {"domain": [0, 1.4185], "nice": false, "zero": false}, "axis": null},
         "y": {"field": "e", "type": "quantitative", "scale": {"domain": [0, 1.5], "nice": false, "zero": false}, "axis": null},
         "text": {"field": "txt"}}}
    ]}
  ], "spacing": 8.5, "bounds": "flush", "resolve": {"scale": {"color": "independent"}}},

  {"width": 1, "height": 32, "data": {"values": []}, "mark": "text"},

  {"hconcat": [
    {"width": 175, "height": 78, "layer": [
      {"data": {"values": [{"txt": "n-CSTR+PFR", "line": 1}]}, "mark": {"type": "text", "fontWeight": "bold"}, "encoding": {"y": {"field": "line", "type": "quantitative", "scale": {"domain": [0.5, 2.5], "reverse": true, "nice": false, "zero": false}, "axis": null}, "text": {"field": "txt"}}},
      {"data": {"values": [{"txt": "equation (19)", "line": 2}]}, "mark": {"type": "text"}, "encoding": {"y": {"field": "line", "type": "quantitative", "scale": {"domain": [0.5, 2.5], "reverse": true, "nice": false, "zero": false}, "axis": null}, "text": {"field": "txt"}}}
    ]},
    {"width": 35, "height": 78, "data": {"values": []}, "mark": "text"},
    {"width": 158, "height": 78, "data": {"values": [{"txt": "n = 0", "line": 1}, {"txt": "t₀ \u2002> \u20020", "line": 2}]}, "mark": {"type": "text", "font": "Liberation Serif", "fontSize": 28}, "encoding": {"y": {"field": "line", "type": "quantitative", "scale": {"domain": [0.5, 2.5], "reverse": true, "nice": false, "zero": false}, "axis": null}, "text": {"field": "txt"}}},
    {"width": 252, "height": 78, "data": {"values": [{"txt": "0 < n < 1", "line": 1}, {"txt": "t₀ \u2002> \u20020", "line": 2}]}, "mark": {"type": "text", "font": "Liberation Serif", "fontSize": 28}, "encoding": {"y": {"field": "line", "type": "quantitative", "scale": {"domain": [0.5, 2.5], "reverse": true, "nice": false, "zero": false}, "axis": null}, "text": {"field": "txt"}}},
    {"width": 128, "height": 78, "data": {"values": [{"txt": "n = 1", "line": 1}, {"txt": "t₀ \u2002> \u20020", "line": 2}]}, "mark": {"type": "text", "font": "Liberation Serif", "fontSize": 28}, "encoding": {"y": {"field": "line", "type": "quantitative", "scale": {"domain": [0.5, 2.5], "reverse": true, "nice": false, "zero": false}, "axis": null}, "text": {"field": "txt"}}},
    {"width": 244, "height": 78, "data": {"values": [{"txt": "n > 1", "line": 1}, {"txt": "t₀ \u2002> \u20020", "line": 2}]}, "mark": {"type": "text", "font": "Liberation Serif", "fontSize": 28}, "encoding": {"y": {"field": "line", "type": "quantitative", "scale": {"domain": [0.5, 2.5], "reverse": true, "nice": false, "zero": false}, "axis": null}, "text": {"field": "txt"}}},
    {"width": 158, "height": 78, "data": {"values": [{"txt": "n → ∞", "line": 1}, {"txt": "t₀ \u2002> \u20020", "line": 2}]}, "mark": {"type": "text", "font": "Liberation Serif", "fontSize": 28}, "encoding": {"y": {"field": "line", "type": "quantitative", "scale": {"domain": [0.5, 2.5], "reverse": true, "nice": false, "zero": false}, "axis": null}, "text": {"field": "txt"}}}
  ], "spacing": 0, "bounds": "flush"}
]
}
